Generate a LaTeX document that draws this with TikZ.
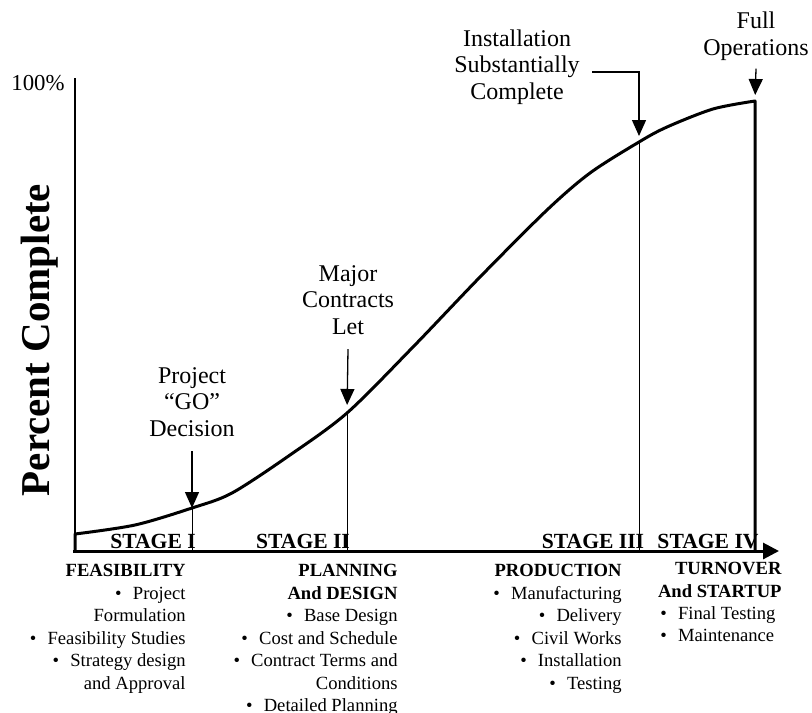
\documentclass[tikz,border=0pt]{standalone}
\usepackage{fontspec}
\setmainfont{Liberation Serif}
\usetikzlibrary{positioning,arrows.meta}
\newcommand{\pbul}{\textbullet\hspace{0.6em}}

\begin{document}
\begin{tikzpicture}[x=0.5pt, y=-0.5pt,
    lbl/.style={align=center, inner sep=0pt, font=\fontsize{12}{13.3}\selectfont},
    stagelbl/.style={inner sep=0pt, anchor=base, font=\fontsize{10.8}{12}\selectfont\bfseries},
    phase/.style={align=right, inner sep=0pt, anchor=north east, font=\fontsize{9.3}{11.25}\selectfont},
    callout/.style={-{Triangle[length=8pt,width=7pt]}, line width=0.65pt},
    marker/.style={line width=0.5pt},
    heavy/.style={line width=1.5pt}]
  \useasboundingbox (0,0) rectangle (812,712);

  % axes
  \coordinate (o) at (75,551);
  \draw[line width=0.65pt] (o) -- (75,78);
  \draw[heavy, -{Triangle[length=8pt,width=8pt]}] (73,551) -- (779,551);
  \node[inner sep=0pt, anchor=east, font=\fontsize{11.4}{12}\selectfont] (top) at (65,83) {100\%};
  \node[rotate=90, inner sep=0pt, font=\fontsize{20.5}{22}\selectfont\bfseries] (ylabel) at (40,340) {Percent Complete};

  % points on the curve
  \coordinate (go)  at (192,508);
  \coordinate (mcl) at (347,413);
  \coordinate (isc) at (639,142);
  \coordinate (fop) at (755,101);

  % stage labels and dividers
  \node[stagelbl] (s1) at (153,548) {STAGE I};
  \node[stagelbl] (s2) at (303,548) {STAGE II};
  \node[stagelbl] (s3) at (593,548) {STAGE III};
  \node[stagelbl] (s4) at (708,548) {STAGE IV};
  \draw[marker] (go) -- (go |- o);
  \draw[marker] (mcl) -- (mcl |- o);
  \draw[marker] (isc) -- (isc |- o);

  % s-curve
  \draw[heavy, line join=round] (o) -- (75,534) -- plot[smooth, tension=0.5] coordinates {
      (75,534) (135,525) (192,508) (232,493) (290,455) (347,413) (413,347)
      (480,277) (547,210) (590,173) (639,142) (667,127) (713,109) (755,101)}
    -- (fop |- o);

  % milestones
  \node[lbl] (gotxt) at (192,402) {Project\\“GO”\\Decision};
  \draw[callout] ([yshift=-7pt]gotxt.south) -- (go);
  \node[lbl] (mcltxt) at (348,300) {Major\\Contracts\\Let};
  \draw[callout, shorten >=4pt] ([yshift=-7pt]mcltxt.south) -- (mcl);
  \node[lbl] (isctxt) at (517,67) {Installation\\Substantially\\Complete};
  \draw[callout, shorten >=3pt] ([xshift=6pt,yshift=-2.5pt]isctxt.east) -| (isc);
  \node[lbl] (foptxt) at (756,36) {Full\\Operations};
  \draw[callout, shorten >=3pt] ([yshift=-4pt]foptxt.south) -- (fop);

  % phases
  \node[phase] (feas) at (186,564) {\textbf{FEASIBILITY}\\\pbul Project\\Formulation\\
      \pbul Feasibility Studies\\\pbul Strategy design\\and Approval};
  \node[phase] (plan) at (398,564) {\textbf{PLANNING}\\\textbf{And DESIGN}\\\pbul Base Design\\
      \pbul Cost and Schedule\\\pbul Contract Terms and\\Conditions\\\pbul Detailed Planning};
  \node[phase] (prod) at (622,564) {\textbf{PRODUCTION}\\\pbul Manufacturing\\\pbul Delivery\\
      \pbul Civil Works\\\pbul Installation\\\pbul Testing};
  \node[phase] (turn) at (782,562) {\textbf{TURNOVER}\\\textbf{And STARTUP}};
  \node[phase, align=left, anchor=north west] (turnlist) at (660,606) {\pbul Final Testing\\\pbul Maintenance};
\end{tikzpicture}
\end{document}
